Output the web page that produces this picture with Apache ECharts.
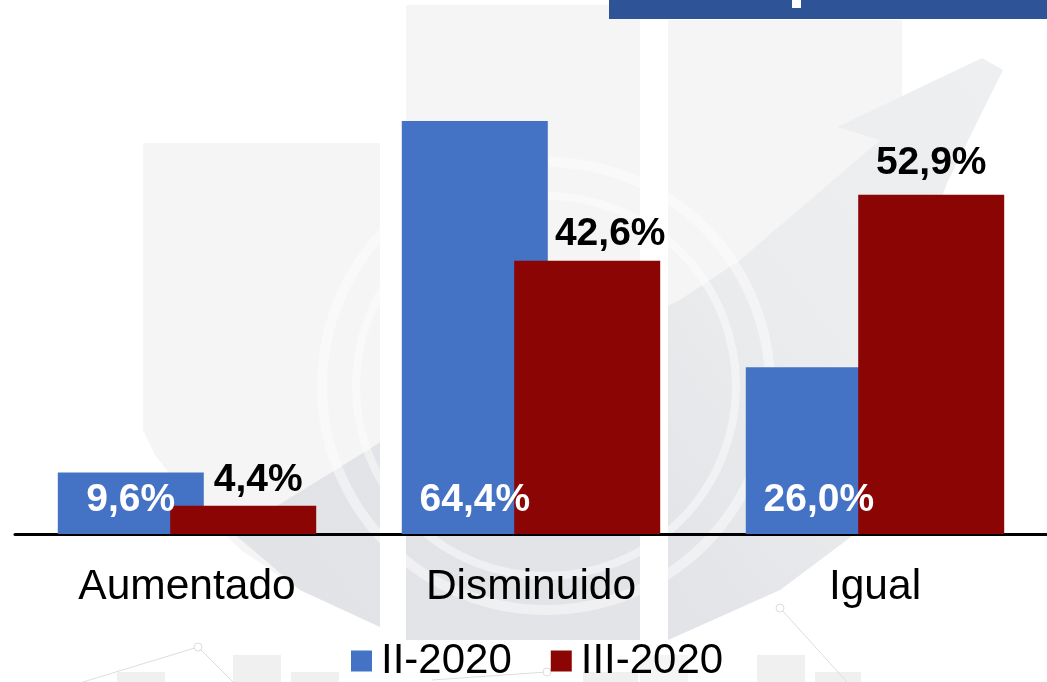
<!DOCTYPE html>
<html><head><meta charset="utf-8">
<script src="https://cdn.jsdelivr.net/npm/echarts@6/dist/echarts.min.js"></script>
<style>html,body{margin:0;padding:0;background:#fff}#c{width:1047px;height:682px}</style>
</head><body><div id="c"></div>
<script>
const categories = ['Aumentado','Disminuido','Igual'];
const seriesNames = ['II-2020','III-2020'];
const valuesII = [9.6,64.4,26.0];
const valuesIII = [4.4,42.6,52.9];
const offsetsIII = [[15,4],[23,3],[0,-2]];
const colors = ['#4472C4','#8B0504'];
const FONT = '"Liberation Sans",Arial,sans-serif';
const fmt = v => v.toFixed(1).replace('.',',') + '%';
const poly = (points, fill) => ({type:'polygon', silent:true, shape:{points}, style:{fill}});
const rect = (x,y,width,height,fill) => ({type:'rect', silent:true, shape:{x,y,width,height}, style:{fill}});
const ring = (r,w,op) => ({type:'circle', silent:true, shape:{cx:546,cy:386,r}, style:{fill:'none',stroke:'#fff',lineWidth:w,opacity:op}});
const dot = (cx,cy) => ({type:'circle', silent:true, shape:{cx,cy,r:4}, style:{fill:'#fff',stroke:'#ddd',lineWidth:1}});
const thin = (points) => ({type:'polyline', silent:true, shape:{points}, style:{fill:'none',stroke:'#ddd',lineWidth:1}});
const swooshFill = {type:'linear',x:1,y:0,x2:0,y2:1,colorStops:[{offset:0,color:'#eeeff1'},{offset:0.35,color:'#ebecee'},{offset:0.6,color:'#e3e4e7'},{offset:1,color:'#e2e3e6'}]};
const decor = [
  poly([[143,143],[380,143],[380,627],[300,590],[241,550],[190,500],[155,455],[143,430]],'#f5f5f6'),
  poly([[406,5],[640,5],[640,640],[406,640]],'#f5f5f6'),
  poly([[668,20],[902,20],[902,440],[860,530],[780,590],[668,640]],'#f5f5f6'),
  poly([[233,533],[384,440],[680,300],[740,260],[830,183],[880,140],[837,127],[982,58],[1003,70],[947,183],[905,300],[885,430],[860,530],[780,590],[668,640],[406,640],[380,627],[300,590]],swooshFill),
  rect(380,0,26,682,'#fff'), rect(640,0,28,682,'#fff'),
  ring(224,10,0.45), ring(190,8,0.45),
  rect(117,672,48,10,'#f0f0f1'), rect(233,655,48,27,'#f0f0f1'), rect(291,672,48,10,'#f0f0f1'),
  rect(583,672,55,10,'#f0f0f1'), rect(640,655,48,27,'#f5f5f6'), rect(757,655,48,27,'#f0f0f1'), rect(815,672,46,10,'#f0f0f1'),
  thin([[83,682],[198,647],[233,682]]), thin([[432,680],[547,672]]), thin([[780,608],[847,682]]),
  dot(198,647), dot(547,672), dot(780,608),
  rect(609,0,438,19,'#2F5397'), rect(792,0,9,8,'#fff')
];
const chart = echarts.init(document.getElementById('c'), null, {renderer:'canvas'});
chart.setOption({
  animation:false,
  backgroundColor:'#fff',
  graphic:{elements:decor},
  color:colors,
  grid:{left:15,right:0,top:21,bottom:148,containLabel:false},
  legend:{data:seriesNames,left:346,top:635,itemWidth:21,itemHeight:21,itemGap:39,icon:'rect',
    textStyle:{fontFamily:FONT,fontSize:42,color:'#000',padding:[0,0,0,4]}},
  xAxis:{type:'category',data:categories,axisTick:{show:false},
    axisLine:{lineStyle:{color:'#000',width:3}},
    axisLabel:{fontFamily:FONT,fontSize:42.5,color:'#000',margin:32}},
  yAxis:{type:'value',min:0,max:80,interval:20,show:false,splitLine:{show:false}},
  series:[
    {name:seriesNames[0],type:'bar',barWidth:146,barGap:'-23%',data:valuesII,
     label:{show:true,position:'insideBottom',distance:14,formatter:p=>fmt(p.value),fontFamily:FONT,fontSize:39,fontWeight:'bold',color:'#fff'}},
    {name:seriesNames[1],type:'bar',barWidth:146,data:valuesIII.map((value,i)=>({value,label:{offset:offsetsIII[i]}})),
     label:{show:true,position:'top',distance:10,formatter:p=>fmt(p.value),fontFamily:FONT,fontSize:39,fontWeight:'bold',color:'#000'}}
  ]
});
</script></body></html>
